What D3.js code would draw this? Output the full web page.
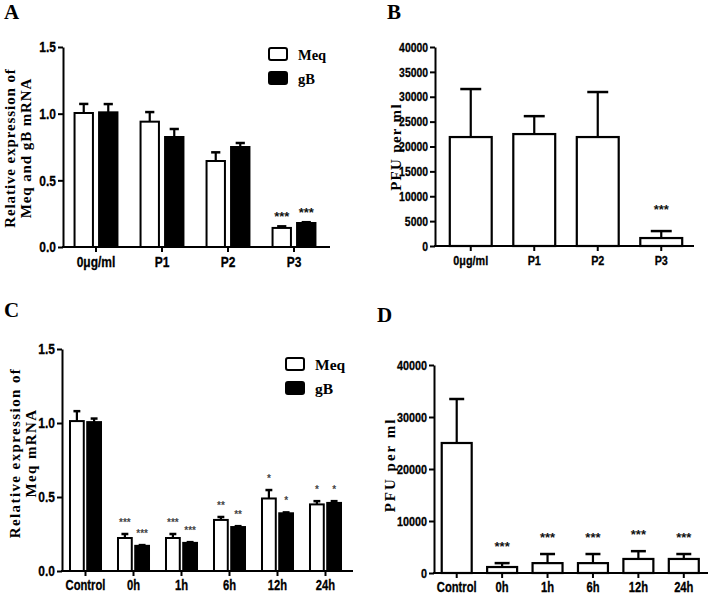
<!DOCTYPE html>
<html>
<head>
<meta charset="utf-8">
<script src="https://cdn.jsdelivr.net/npm/d3@7"></script>
<style>
  html, body { margin: 0; padding: 0; background: #fff; }
  svg { display: block; }
  .tick text { font-family: "Liberation Sans", Arial, sans-serif; font-weight: bold; fill: #000; stroke: #000; stroke-width: 0.3px; }
  .serif { font-family: "Liberation Serif", "Times New Roman", serif; font-weight: bold; }
</style>
</head>
<body>
<svg id="chart" width="709" height="596"></svg>
<script>
// ---------- DATA ----------
const groupsAB = ["0μg/ml", "P1", "P2", "P3"];
const meqA = [1.005, 0.94, 0.645, 0.143];
const meqAErr = [0.068, 0.072, 0.065, 0.012];
const gbA = [1.01, 0.825, 0.75, 0.18];
const gbAErr = [0.062, 0.06, 0.03, 0.006];
const sigAMeq = ["", "", "", "***"];
const sigAgB = ["", "", "", "***"];
const ticksA = [0, 0.5, 1.0, 1.5];

const pfuB = [21900, 22500, 21900, 1600];
const pfuBErr = [9650, 3600, 9050, 1400];
const sigB = ["", "", "", "***"];
const ticksB = [0, 5000, 10000, 15000, 20000, 25000, 30000, 35000, 40000];

const groupsCD = ["Control", "0h", "1h", "6h", "12h", "24h"];
const meqC = [1.013, 0.223, 0.223, 0.345, 0.49, 0.45];
const meqCErr = [0.067, 0.027, 0.027, 0.02, 0.057, 0.022];
const gbC = [1.006, 0.17, 0.19, 0.297, 0.39, 0.46];
const gbCErr = [0.024, 0.005, 0.005, 0.006, 0.006, 0.012];
const sigCMeq = ["", "***", "***", "**", "*", "*"];
const sigCgB = ["", "***", "***", "**", "*", "*"];
const ticksC = [0, 0.5, 1.0, 1.5];

const pfuD = [25000, 1150, 1900, 1900, 2700, 2700];
const pfuDErr = [8460, 750, 1750, 1750, 1500, 950];
const sigD = ["", "***", "***", "***", "***", "***"];
const ticksD = [0, 10000, 20000, 30000, 40000];

const seriesKeys = ["Meq", "gB"];
const seriesFill = ["#ffffff", "#000000"];

// ---------- DRAW ----------
const svg = d3.select("#chart");
const NARROW = 0.8;

function narrow(sel) {
  sel.each(function () {
    const t = d3.select(this);
    const x = +t.attr("x") || 0;
    t.attr("x", x / NARROW).attr("transform", `scale(${NARROW},1)`);
  });
}

function axes(g, p) {
  const y = d3.scaleLinear().domain(p.yDomain).range([p.y0, p.y1]);
  const x = d3.scaleBand().domain(p.cats).range([p.xr0, p.xr1]).padding(p.pad).paddingOuter(p.pad / 2);
  const ya = g.append("g").attr("transform", `translate(${p.ax},0)`)
    .call(d3.axisLeft(y).tickValues(p.ticks).tickFormat(p.fmt).tickSize(5).tickSizeOuter(0).tickPadding(2));
  ya.selectAll(".domain").attr("stroke-width", 2);
  ya.selectAll(".tick line").attr("stroke-width", 2);
  ya.selectAll(".tick text").style("font-size", p.yfs + "px").call(narrow);
  const xa = g.append("g").attr("transform", `translate(0,${p.y0})`)
    .call(d3.axisBottom(x).tickSize(5).tickSizeOuter(0).tickPadding(4));
  xa.select(".domain").remove();
  xa.selectAll(".tick line").attr("stroke-width", 2);
  xa.selectAll(".tick text").style("font-size", p.xfs + "px").call(narrow);
  g.append("line").attr("x1", p.ax - 1).attr("x2", p.xEnd).attr("y1", p.y0).attr("y2", p.y0)
    .attr("stroke", "#000").attr("stroke-width", 2);
  return { x, y };
}

function errBar(g, cx, yTop, yCap, capW) {
  g.append("line").attr("x1", cx).attr("x2", cx).attr("y1", yTop).attr("y2", yCap)
    .attr("stroke", "#000").attr("stroke-width", 2.2);
  g.append("line").attr("x1", cx - capW / 2).attr("x2", cx + capW / 2).attr("y1", yCap).attr("y2", yCap)
    .attr("stroke", "#000").attr("stroke-width", 2.5);
}

function yLabel(g, lines, cx, cy, fs, ls, lh) {
  const t = g.append("text").attr("class", "serif")
    .attr("transform", `translate(${cx},${cy}) rotate(-90)`)
    .attr("text-anchor", "middle").style("font-size", fs + "px").style("letter-spacing", ls + "px");
  lines.forEach((l, i) => {
    t.append("tspan").attr("x", 0).attr("y", (i - (lines.length - 1) / 2) * lh + fs * 0.35).text(l);
  });
}

function panelLetter(ch, x, y) {
  svg.append("text").attr("class", "serif").attr("x", x).attr("y", y).style("font-size", "21px").text(ch);
}

function legend(g, x, y, gap, fs) {
  seriesKeys.forEach((k, i) => {
    g.append("rect").attr("x", x).attr("y", y + i * gap).attr("width", 18).attr("height", 12)
      .attr("rx", 2).attr("fill", seriesFill[i]).attr("stroke", "#000").attr("stroke-width", 2);
    g.append("text").attr("class", "serif").attr("x", x + 29).attr("y", y + i * gap + 12)
      .style("font-size", fs + "px").text(k);
  });
}

function groupedPanel(p, meq, meqErr, gb, gbErr, sigM, sigG) {
  const g = svg.append("g");
  const { x, y } = axes(g, p);
  const sub = d3.scaleBand().domain(seriesKeys).range([0, x.bandwidth()]).paddingInner(p.subPad);
  const vals = [meq, gb], errs = [meqErr, gbErr], sigs = [sigM, sigG];
  seriesKeys.forEach((k, si) => {
    p.cats.forEach((c, i) => {
      const bx = x(c) + sub(k);
      const v = vals[si][i];
      g.append("rect").attr("x", bx).attr("y", y(v)).attr("width", sub.bandwidth())
        .attr("height", y(0) - y(v)).attr("fill", seriesFill[si]).attr("stroke", "#000").attr("stroke-width", 2);
      const cx = bx + sub.bandwidth() / 2;
      errBar(g, cx, y(v), y(v + errs[si][i]), sub.bandwidth() * 0.5);
      if (sigs[si][i]) {
        g.append("text").attr("x", cx).attr("y", y(v + errs[si][i]) - p.sigOff)
          .attr("text-anchor", "middle").style("font-family", "Liberation Sans, Arial, sans-serif")
          .style("font-weight", "bold").style("font-size", p.sigFs + "px").attr("fill", p.sigColor)
          .text(sigs[si][i]);
      }
    });
  });
  legend(g, p.legX, p.legY, p.legGap, p.legFs);
  yLabel(g, p.ylabel, p.ylx, p.yly, p.ylfs, p.ylls, p.yllh);
}

function singlePanel(p, vals, errs, sigs) {
  const g = svg.append("g");
  const { x, y } = axes(g, p);
  p.cats.forEach((c, i) => {
    const v = vals[i];
    g.append("rect").attr("x", x(c)).attr("y", y(v)).attr("width", x.bandwidth())
      .attr("height", y(0) - y(v)).attr("fill", "#fff").attr("stroke", "#000").attr("stroke-width", 2.2);
    const cx = x(c) + x.bandwidth() / 2;
    errBar(g, cx, y(v), y(v + errs[i]), x.bandwidth() * 0.5);
    if (sigs[i]) {
      g.append("text").attr("x", cx).attr("y", y(v + errs[i]) - p.sigOff)
        .attr("text-anchor", "middle").style("font-family", "Liberation Sans, Arial, sans-serif")
        .style("font-weight", "bold").style("font-size", p.sigFs + "px").attr("fill", "#111")
        .text(sigs[i]);
    }
  });
  yLabel(g, p.ylabel, p.ylx, p.yly, p.ylfs, p.ylls, p.yllh);
}

// Panel A
groupedPanel({
  cats: groupsAB, yDomain: [0, 1.5], y0: 247, y1: 47, ax: 63, xr0: 63, xr1: 327, pad: 0.35, subPad: 0.25,
  xEnd: 330, ticks: ticksA, fmt: d3.format(".1f"), yfs: 15, xfs: 15,
  sigOff: 5, sigFs: 13, sigColor: "#111",
  legX: 269, legY: 48, legGap: 24, legFs: 14.5,
  ylabel: ["Relative expression of", "Meq and gB mRNA"], ylx: 18, yly: 148, ylfs: 15, ylls: 0.9, yllh: 16
}, meqA, meqAErr, gbA, gbAErr, sigAMeq, sigAgB);

// Panel B
singlePanel({
  cats: groupsAB, yDomain: [0, 40000], y0: 246, y1: 47, ax: 435, xr0: 439, xr1: 693, pad: 0.34,
  xEnd: 694, ticks: ticksB, fmt: d3.format("d"), yfs: 13, xfs: 13.5,
  sigOff: 17, sigFs: 13,
  ylabel: ["PFU per ml"], ylx: 396, yly: 147, ylfs: 15, ylls: 1.3, yllh: 16
}, pfuB, pfuBErr, sigB);

// Panel C
groupedPanel({
  cats: groupsCD, yDomain: [0, 1.5], y0: 571, y1: 349, ax: 62, xr0: 61.5, xr1: 349.5, pad: 0.354, subPad: 0.2,
  xEnd: 353, ticks: ticksC, fmt: d3.format(".1f"), yfs: 15, xfs: 14,
  sigOff: 8, sigFs: 10, sigColor: "#444",
  legX: 286, legY: 358, legGap: 24, legFs: 15.5,
  ylabel: ["Relative expression of", "Meq mRNA"], ylx: 23, yly: 453, ylfs: 15, ylls: 1.4, yllh: 16
}, meqC, meqCErr, gbC, gbCErr, sigCMeq, sigCgB);

// Panel D
singlePanel({
  cats: groupsCD, yDomain: [0, 40000], y0: 573, y1: 365, ax: 434, xr0: 434, xr1: 706.5, pad: 0.34,
  xEnd: 708, ticks: ticksD, fmt: d3.format("d"), yfs: 13.5, xfs: 14,
  sigOff: 12, sigFs: 13,
  ylabel: ["PFU per ml"], ylx: 390, yly: 465, ylfs: 15, ylls: 2, yllh: 16
}, pfuD, pfuDErr, sigD);

panelLetter("A", 4, 19);
panelLetter("B", 387, 19);
panelLetter("C", 4, 317);
panelLetter("D", 377, 322);
</script>
</body>
</html>
